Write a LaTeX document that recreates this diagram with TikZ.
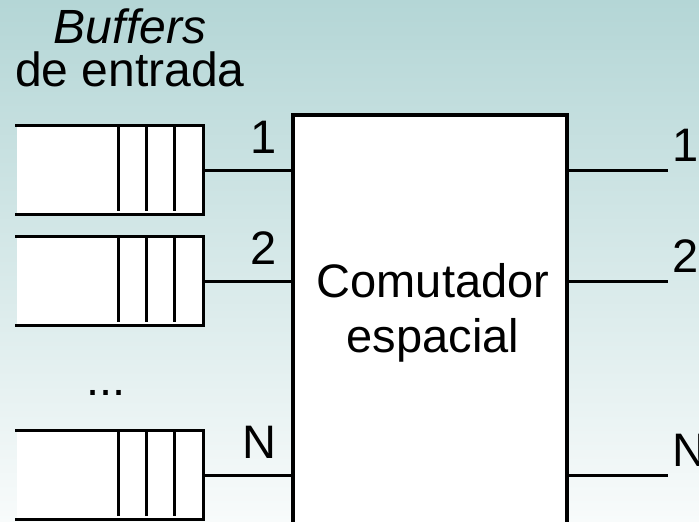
\documentclass[tikz,border=0pt]{standalone}
\usepackage{fontspec}
\setmainfont{Liberation Sans}
\usetikzlibrary{positioning}
\definecolor{bgtop}{HTML}{B4D6D6}
\definecolor{bgmid}{HTML}{DAEBEB}
\definecolor{bgbot}{HTML}{F8FBFB}

\begin{document}
\begin{tikzpicture}[x=1pt,y=-1pt,line width=3.4pt,
  txt/.style={font=\fontsize{47}{55}\selectfont,inner sep=0pt},
  buf/.style={fill=white,minimum width=185pt,minimum height=86pt,inner sep=0pt},
  sw/.style={draw,fill=white,minimum width=274pt,minimum height=440pt,inner sep=0pt},
  wire/.style={line width=3pt}]
% background
\fill[top color=bgtop,middle color=bgmid,bottom color=bgbot] (0,0) rectangle (699,522);
\clip (0,0) rectangle (699,522);
\node[txt,align=center,font=\fontsize{48}{43}\selectfont] (ttl) at (130,48) {\textit{Buffers}\\de entrada};
% switch fabric
\node[sw] (sw) at (430,335) {};
\node[txt,align=center] (swl) at (433,313) {Comutador\\espacial};
% input queues + links
\foreach \i/\y in {1/170,2/281,N/475} {
  \node[buf] (b\i) at (109.5,\y) {};
  \draw (b\i.north west) -- (b\i.north east) -- (b\i.south east) -- (b\i.south west);
  \foreach \d in {29,57,85} \draw (b\i.north east) ++(-\d,0) -- ++(0,86);
  \draw[wire] (b\i.east) -- (b\i.east -| sw.west)
    node[txt,anchor=base east,xshift=-13pt,yshift=17pt] {\i};
  \coordinate (o\i) at (668,\y);
  \draw[wire] (sw.east |- b\i.east) -- (o\i)
    node[txt,anchor=base west,xshift=3pt,yshift=9pt] {\i};
}
\node[txt] (dots) at (106,393) {...};
\end{tikzpicture}
\end{document}
